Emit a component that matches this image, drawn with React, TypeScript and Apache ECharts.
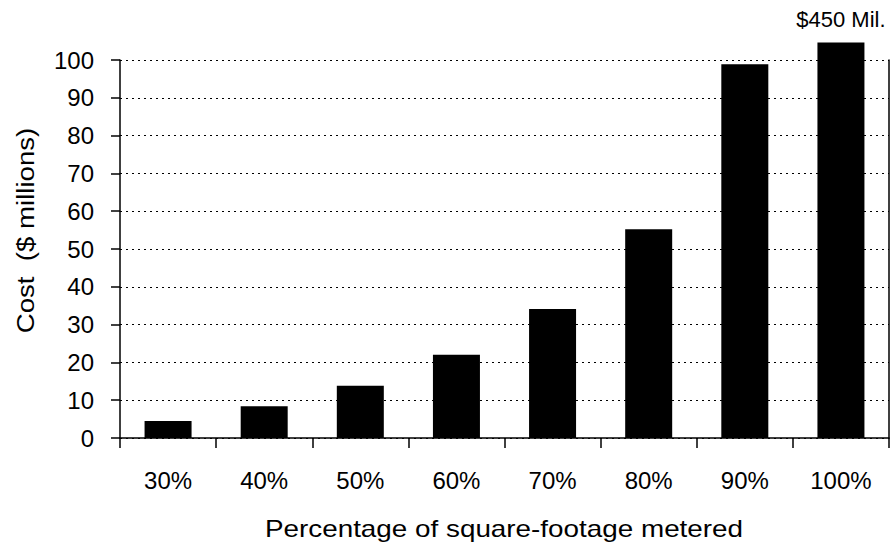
import React, { useEffect, useRef } from "react";
import * as echarts from "echarts";

const categories = ["30%", "40%", "50%", "60%", "70%", "80%", "90%", "100%"];
const costs = [4.5, 8.4, 13.8, 22, 34.1, 55.2, 98.9, 104.6];
const barNotes = ["", "", "", "", "", "", "", "$450 Mil."];
const yTicks = { min: 0, max: 100, interval: 10 };
const xTitle = "Percentage of square-footage metered";
const yTitle = "Cost  ($ millions)";

const FONT = "'Liberation Sans', Arial, sans-serif";

export default function App() {
  const ref = useRef<HTMLDivElement>(null);
  useEffect(() => {
    if (!ref.current) return;
    const chart = echarts.init(ref.current, null, { renderer: "svg" });
    chart.setOption({
      animation: false,
      backgroundColor: "#ffffff",
      textStyle: { fontFamily: FONT, color: "#000" },
      grid: { left: 120, right: 2, top: 60, bottom: 108, containLabel: false },
      graphic: [
        {
          type: "text",
          x: 504,
          y: 529,
          scaleX: 1.16,
          style: {
            text: xTitle,
            font: `24px ${FONT}`,
            fill: "#000",
            textAlign: "center",
            textVerticalAlign: "middle",
          },
        },
        {
          type: "text",
          x: 25.5,
          y: 230.5,
          rotation: Math.PI / 2,
          scaleX: 1.15,
          style: {
            text: yTitle,
            font: `24px ${FONT}`,
            fill: "#000",
            textAlign: "center",
            textVerticalAlign: "middle",
          },
        },
      ],
      xAxis: {
        type: "category",
        data: categories,
        axisLine: { show: true, lineStyle: { color: "#000", width: 1.5 } },
        axisTick: { show: true, length: 10, alignWithLabel: false, lineStyle: { color: "#000", width: 1.5 } },
        axisLabel: { fontFamily: FONT, fontSize: 24, color: "#000", margin: 30 },
        splitLine: { show: false },
      },
      yAxis: [
        {
          type: "value",
          min: yTicks.min,
          max: yTicks.max,
          interval: yTicks.interval,
          axisLine: { show: true, lineStyle: { color: "#000", width: 1.5 } },
          axisTick: { show: true, inside: false, length: 9, lineStyle: { color: "#000", width: 1.5 } },
          axisLabel: { fontFamily: FONT, fontSize: 24, color: "#000", margin: 26 },
          splitLine: { show: true, lineStyle: { color: "#000", width: 1, type: [2, 4] } },
        },
        {
          type: "value",
          position: "right",
          min: yTicks.min,
          max: yTicks.max,
          interval: yTicks.interval,
          axisLine: { show: true, lineStyle: { color: "#000", width: 1.5 } },
          axisTick: { show: false },
          axisLabel: { show: false },
          splitLine: { show: false },
        },
      ],
      series: [
        {
          type: "bar",
          data: costs,
          barWidth: 47,
          clip: false,
          itemStyle: { color: "#000" },
          label: {
            show: true,
            position: "top",
            distance: 12,
            fontFamily: FONT,
            fontSize: 22,
            color: "#000",
            formatter: (p: any) => barNotes[p.dataIndex],
          },
        },
      ],
    });
    return () => chart.dispose();
  }, []);
  return <div ref={ref} style={{ width: 891, height: 546, position: "absolute", left: 0, top: 0 }} />;
}
